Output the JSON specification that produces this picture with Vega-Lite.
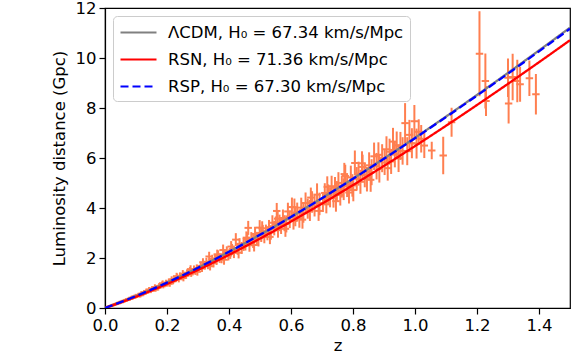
{
"$schema": "https://vega.github.io/schema/vega-lite/v6.json",
"autosize": {"type": "none"},
"padding": {"left": 105, "top": 8, "right": 12, "bottom": 55},
"width": 465,
"height": 300,
"background": "white",
"config": {
  "view": {"stroke": "black", "strokeWidth": 1.2},
  "axis": {"domainColor": "black", "domainWidth": 1.2, "tickColor": "black", "tickWidth": 1.2, "tickSize": 6, "labelColor": "black", "labelFont": "DejaVu Sans", "labelFontSize": 16.5, "titleFont": "DejaVu Sans", "titleFontSize": 16.5, "titleFontWeight": "normal", "titleColor": "black", "grid": false, "labelPadding": 3, "labelFlush": false, "labelOverlap": false},
  "legend": {"orient": "top-left", "offset": 8, "fillColor": "white", "strokeColor": "#cccccc", "cornerRadius": 4, "padding": 6, "symbolType": "M-1,0H3", "symbolSize": 324, "symbolStrokeWidth": 2.2, "labelFont": "DejaVu Sans", "labelFontSize": 16.5, "labelColor": "black", "rowPadding": 8, "labelOffset": 28, "labelLimit": 400}
},
"datasets": {
  "pts": [
    {"z":0.012,"d":0.053,"e":0.015,"ez":0.008},{"z":0.015,"d":0.069,"e":0.018,"ez":0.008},{"z":0.018,"d":0.079,"e":0.02,"ez":0.008},{"z":0.021,"d":0.097,"e":0.023,"ez":0.008},{"z":0.024,"d":0.105,"e":0.026,"ez":0.008},{"z":0.027,"d":0.124,"e":0.028,"ez":0.008},{"z":0.030,"d":0.131,"e":0.031,"ez":0.008},{"z":0.033,"d":0.152,"e":0.034,"ez":0.009},{"z":0.036,"d":0.160,"e":0.036,"ez":0.009},{"z":0.040,"d":0.186,"e":0.039,"ez":0.009},{"z":0.043,"d":0.190,"e":0.042,"ez":0.009},{"z":0.046,"d":0.214,"e":0.044,"ez":0.009},{"z":0.050,"d":0.222,"e":0.047,"ez":0.01},{"z":0.053,"d":0.247,"e":0.05,"ez":0.01},{"z":0.056,"d":0.252,"e":0.052,"ez":0.01},{"z":0.060,"d":0.283,"e":0.055,"ez":0.01},{"z":0.064,"d":0.289,"e":0.057,"ez":0.01},{"z":0.068,"d":0.322,"e":0.06,"ez":0.01},{"z":0.072,"d":0.326,"e":0.062,"ez":0.011},{"z":0.076,"d":0.361,"e":0.065,"ez":0.011},{"z":0.080,"d":0.366,"e":0.068,"ez":0.011},{"z":0.085,"d":0.408,"e":0.07,"ez":0.011},{"z":0.090,"d":0.414,"e":0.073,"ez":0.011},{"z":0.095,"d":0.460,"e":0.075,"ez":0.012},{"z":0.100,"d":0.466,"e":0.078,"ez":0.012},
    {"z":0.103,"d":0.474,"e":0.075,"ez":0.012},{"z":0.108,"d":0.526,"e":0.075,"ez":0.012},{"z":0.112,"d":0.510,"e":0.085,"ez":0.012},{"z":0.117,"d":0.570,"e":0.075,"ez":0.012},{"z":0.121,"d":0.573,"e":0.09,"ez":0.012},{"z":0.126,"d":0.637,"e":0.085,"ez":0.012},{"z":0.131,"d":0.613,"e":0.09,"ez":0.012},{"z":0.135,"d":0.660,"e":0.09,"ez":0.012},{"z":0.139,"d":0.674,"e":0.085,"ez":0.012},{"z":0.144,"d":0.729,"e":0.1,"ez":0.012},{"z":0.148,"d":0.685,"e":0.09,"ez":0.012},{"z":0.152,"d":0.766,"e":0.1,"ez":0.012},{"z":0.157,"d":0.754,"e":0.09,"ez":0.012},{"z":0.161,"d":0.839,"e":0.11,"ez":0.012},{"z":0.166,"d":0.809,"e":0.1,"ez":0.012},{"z":0.170,"d":0.812,"e":0.11,"ez":0.012},{"z":0.175,"d":0.882,"e":0.11,"ez":0.012},{"z":0.179,"d":0.886,"e":0.1,"ez":0.012},{"z":0.184,"d":0.950,"e":0.11,"ez":0.012},{"z":0.188,"d":0.895,"e":0.11,"ez":0.012},{"z":0.193,"d":0.940,"e":0.11,"ez":0.012},{"z":0.197,"d":1.011,"e":0.12,"ez":0.012},{"z":0.202,"d":0.967,"e":0.11,"ez":0.012},{"z":0.206,"d":1.053,"e":0.12,"ez":0.012},{"z":0.211,"d":1.050,"e":0.13,"ez":0.012},{"z":0.215,"d":1.139,"e":0.13,"ez":0.012},{"z":0.220,"d":1.078,"e":0.12,"ez":0.012},{"z":0.224,"d":1.147,"e":0.13,"ez":0.012},{"z":0.229,"d":1.165,"e":0.13,"ez":0.012},{"z":0.233,"d":1.236,"e":0.14,"ez":0.012},{"z":0.238,"d":1.155,"e":0.13,"ez":0.012},{"z":0.242,"d":1.279,"e":0.14,"ez":0.012},{"z":0.247,"d":1.243,"e":0.13,"ez":0.012},{"z":0.251,"d":1.372,"e":0.145,"ez":0.012},{"z":0.256,"d":1.309,"e":0.14,"ez":0.012},{"z":0.260,"d":1.303,"e":0.145,"ez":0.012},{"z":0.265,"d":1.402,"e":0.145,"ez":0.012},{"z":0.269,"d":1.397,"e":0.14,"ez":0.012},{"z":0.274,"d":1.484,"e":0.155,"ez":0.012},{"z":0.278,"d":1.390,"e":0.145,"ez":0.012},{"z":0.283,"d":1.448,"e":0.145,"ez":0.012},{"z":0.287,"d":1.547,"e":0.155,"ez":0.012},{"z":0.292,"d":1.468,"e":0.145,"ez":0.012},{"z":0.296,"d":1.585,"e":0.16,"ez":0.012},
    {"z":0.304,"d":1.570,"e":0.15,"ez":0.012},{"z":0.309,"d":1.684,"e":0.16,"ez":0.012},{"z":0.313,"d":1.590,"e":0.15,"ez":0.012},{"z":0.318,"d":1.724,"e":0.17,"ez":0.012},{"z":0.322,"d":1.698,"e":0.16,"ez":0.012},{"z":0.327,"d":1.835,"e":0.17,"ez":0.012},{"z":0.332,"d":1.722,"e":0.17,"ez":0.012},{"z":0.336,"d":2.060,"e":0.19,"ez":0.012},{"z":0.341,"d":1.834,"e":0.17,"ez":0.012},{"z":0.346,"d":1.941,"e":0.19,"ez":0.012},{"z":0.350,"d":1.794,"e":0.17,"ez":0.012},{"z":0.355,"d":1.980,"e":0.19,"ez":0.012},{"z":0.360,"d":1.912,"e":0.19,"ez":0.012},{"z":0.365,"d":2.105,"e":0.2,"ez":0.012},{"z":0.370,"d":1.994,"e":0.19,"ez":0.012},{"z":0.376,"d":1.989,"e":0.2,"ez":0.012},{"z":0.381,"d":2.318,"e":0.22,"ez":0.012},{"z":0.387,"d":2.122,"e":0.2,"ez":0.012},{"z":0.393,"d":2.247,"e":0.22,"ez":0.012},{"z":0.398,"d":2.101,"e":0.2,"ez":0.012},{"z":0.404,"d":2.184,"e":0.22,"ez":0.012},{"z":0.410,"d":2.339,"e":0.22,"ez":0.012},{"z":0.416,"d":2.216,"e":0.22,"ez":0.012},{"z":0.422,"d":2.734,"e":0.26,"ez":0.012},{"z":0.428,"d":2.366,"e":0.24,"ez":0.012},{"z":0.434,"d":2.554,"e":0.24,"ez":0.012},{"z":0.441,"d":2.402,"e":0.24,"ez":0.012},{"z":0.447,"d":2.543,"e":0.26,"ez":0.012},{"z":0.453,"d":2.558,"e":0.26,"ez":0.012},{"z":0.459,"d":2.756,"e":0.27,"ez":0.012},{"z":0.462,"d":3.205,"e":0.28,"ez":0.012},{"z":0.466,"d":2.509,"e":0.26,"ez":0.012},{"z":0.472,"d":2.766,"e":0.27,"ez":0.012},{"z":0.478,"d":2.669,"e":0.27,"ez":0.012},{"z":0.484,"d":2.962,"e":0.29,"ez":0.012},{"z":0.490,"d":2.776,"e":0.27,"ez":0.012},{"z":0.495,"d":2.751,"e":0.29,"ez":0.012},{"z":0.499,"d":3.215,"e":0.3,"ez":0.012},
    {"z":0.504,"d":2.900,"e":0.26,"ez":0.012},{"z":0.509,"d":3.055,"e":0.27,"ez":0.012},{"z":0.514,"d":2.849,"e":0.26,"ez":0.012},{"z":0.519,"d":3.066,"e":0.27,"ez":0.012},{"z":0.524,"d":2.978,"e":0.27,"ez":0.012},{"z":0.529,"d":3.232,"e":0.29,"ez":0.012},{"z":0.535,"d":3.022,"e":0.29,"ez":0.012},{"z":0.540,"d":3.410,"e":0.3,"ez":0.012},{"z":0.546,"d":3.195,"e":0.29,"ez":0.012},{"z":0.551,"d":3.362,"e":0.3,"ez":0.012},{"z":0.554,"d":3.882,"e":0.32,"ez":0.012},{"z":0.558,"d":3.113,"e":0.3,"ez":0.012},{"z":0.563,"d":3.416,"e":0.32,"ez":0.012},{"z":0.568,"d":3.281,"e":0.32,"ez":0.012},{"z":0.574,"d":3.599,"e":0.34,"ez":0.012},{"z":0.579,"d":3.392,"e":0.32,"ez":0.012},{"z":0.585,"d":3.363,"e":0.34,"ez":0.012},{"z":0.590,"d":3.862,"e":0.35,"ez":0.012},{"z":0.596,"d":3.547,"e":0.35,"ez":0.012},{"z":0.603,"d":4.038,"e":0.38,"ez":0.012},{"z":0.608,"d":3.486,"e":0.35,"ez":0.012},{"z":0.614,"d":3.640,"e":0.37,"ez":0.012},{"z":0.620,"d":3.836,"e":0.38,"ez":0.012},{"z":0.627,"d":3.581,"e":0.37,"ez":0.012},{"z":0.633,"d":4.013,"e":0.4,"ez":0.012},{"z":0.640,"d":3.790,"e":0.38,"ez":0.012},{"z":0.647,"d":4.201,"e":0.42,"ez":0.012},{"z":0.654,"d":3.972,"e":0.4,"ez":0.012},{"z":0.661,"d":3.901,"e":0.42,"ez":0.012},{"z":0.668,"d":4.241,"e":0.43,"ez":0.012},{"z":0.676,"d":4.091,"e":0.43,"ez":0.012},{"z":0.684,"d":4.535,"e":0.45,"ez":0.012},{"z":0.692,"d":4.164,"e":0.45,"ez":0.012},
    {"z":0.703,"d":4.200,"e":0.36,"ez":0.012},{"z":0.709,"d":4.602,"e":0.39,"ez":0.012},{"z":0.714,"d":4.146,"e":0.36,"ez":0.012},{"z":0.720,"d":4.554,"e":0.39,"ez":0.012},{"z":0.726,"d":4.417,"e":0.39,"ez":0.012},{"z":0.731,"d":4.871,"e":0.42,"ez":0.012},{"z":0.737,"d":4.405,"e":0.39,"ez":0.012},{"z":0.742,"d":4.820,"e":0.42,"ez":0.012},{"z":0.748,"d":4.677,"e":0.4,"ez":0.012},{"z":0.753,"d":5.003,"e":0.43,"ez":0.012},{"z":0.759,"d":4.518,"e":0.42,"ez":0.012},{"z":0.764,"d":4.848,"e":0.43,"ez":0.012},{"z":0.770,"d":4.746,"e":0.43,"ez":0.012},{"z":0.775,"d":5.282,"e":0.45,"ez":0.012},{"z":0.781,"d":4.878,"e":0.44,"ez":0.012},{"z":0.787,"d":4.619,"e":0.44,"ez":0.012},{"z":0.793,"d":5.224,"e":0.47,"ez":0.012},{"z":0.798,"d":4.903,"e":0.45,"ez":0.012},{"z":0.806,"d":5.800,"e":0.5,"ez":0.012},{"z":0.812,"d":5.168,"e":0.47,"ez":0.012},{"z":0.818,"d":5.375,"e":0.48,"ez":0.012},{"z":0.824,"d":5.048,"e":0.48,"ez":0.012},{"z":0.831,"d":5.643,"e":0.49,"ez":0.012},{"z":0.838,"d":5.318,"e":0.49,"ez":0.012},{"z":0.845,"d":5.151,"e":0.49,"ez":0.012},{"z":0.852,"d":5.707,"e":0.52,"ez":0.012},{"z":0.860,"d":5.433,"e":0.52,"ez":0.012},{"z":0.868,"d":6.067,"e":0.55,"ez":0.012},{"z":0.876,"d":5.672,"e":0.53,"ez":0.012},{"z":0.885,"d":5.567,"e":0.55,"ez":0.012},{"z":0.894,"d":5.992,"e":0.56,"ez":0.012},
    {"z":0.115,"d":0.514,"e":0.085,"ez":0.012},{"z":0.142,"d":0.739,"e":0.095,"ez":0.012},{"z":0.163,"d":0.744,"e":0.095,"ez":0.012},{"z":0.186,"d":0.989,"e":0.115,"ez":0.012},{"z":0.209,"d":0.974,"e":0.125,"ez":0.012},{"z":0.231,"d":1.273,"e":0.135,"ez":0.012},{"z":0.253,"d":1.211,"e":0.145,"ez":0.012},{"z":0.276,"d":1.555,"e":0.155,"ez":0.012},{"z":0.298,"d":1.453,"e":0.16,"ez":0.012},{"z":0.316,"d":1.831,"e":0.16,"ez":0.012},{"z":0.339,"d":1.672,"e":0.17,"ez":0.012},{"z":0.362,"d":2.145,"e":0.19,"ez":0.012},{"z":0.384,"d":1.931,"e":0.2,"ez":0.012},{"z":0.407,"d":2.457,"e":0.22,"ez":0.012},{"z":0.431,"d":2.213,"e":0.23,"ez":0.012},{"z":0.456,"d":2.814,"e":0.25,"ez":0.012},{"z":0.481,"d":2.521,"e":0.26,"ez":0.012},{"z":0.507,"d":3.189,"e":0.28,"ez":0.012},{"z":0.532,"d":2.844,"e":0.29,"ez":0.012},{"z":0.557,"d":3.573,"e":0.3,"ez":0.012},{"z":0.582,"d":3.167,"e":0.32,"ez":0.012},{"z":0.611,"d":4.028,"e":0.35,"ez":0.012},{"z":0.637,"d":3.533,"e":0.36,"ez":0.012},{"z":0.664,"d":4.417,"e":0.4,"ez":0.012},{"z":0.689,"d":3.884,"e":0.4,"ez":0.012},{"z":0.717,"d":4.847,"e":0.42,"ez":0.012},{"z":0.745,"d":4.273,"e":0.42,"ez":0.012},{"z":0.772,"d":5.356,"e":0.45,"ez":0.012},{"z":0.801,"d":4.718,"e":0.45,"ez":0.012},{"z":0.829,"d":5.789,"e":0.48,"ez":0.012},{"z":0.857,"d":5.128,"e":0.48,"ez":0.012},{"z":0.882,"d":6.128,"e":0.5,"ez":0.012},
    {"z":0.902,"d":5.818,"e":0.5,"ez":0.012},{"z":0.908,"d":6.349,"e":0.52,"ez":0.012},{"z":0.912,"d":5.594,"e":0.5,"ez":0.012},{"z":0.918,"d":6.253,"e":0.52,"ez":0.012},{"z":0.923,"d":5.862,"e":0.5,"ez":0.012},{"z":0.929,"d":6.656,"e":0.55,"ez":0.012},{"z":0.935,"d":6.146,"e":0.52,"ez":0.012},{"z":0.941,"d":6.510,"e":0.55,"ez":0.012},{"z":0.947,"d":5.988,"e":0.55,"ez":0.012},{"z":0.953,"d":6.483,"e":0.56,"ez":0.012},{"z":0.960,"d":6.283,"e":0.55,"ez":0.012},{"z":0.968,"d":7.395,"e":0.8,"ez":0.012},{"z":0.975,"d":6.272,"e":0.56,"ez":0.012},{"z":0.982,"d":6.926,"e":0.6,"ez":0.012},{"z":0.990,"d":6.591,"e":0.6,"ez":0.012},{"z":0.998,"d":7.471,"e":0.65,"ez":0.012},{"z":1.005,"d":6.577,"e":0.6,"ez":0.012},{"z":1.012,"d":7.048,"e":0.5,"ez":0.012},{"z":1.020,"d":6.769,"e":0.55,"ez":0.012},{"z":1.030,"d":6.498,"e":0.5,"ez":0.012},{"z":1.054,"d":6.30,"e":0.35,"ez":0.012},{"z":1.091,"d":6.10,"e":0.75,"ez":0.012},{"z":1.118,"d":7.43,"e":0.58,"ez":0.012},
    {"z":1.208,"d":10.17,"e":1.7,"ez":0.012},{"z":1.227,"d":9.08,"e":1.1,"ez":0.012},{"z":1.229,"d":8.28,"e":0.6,"ez":0.012},{"z":1.300,"d":9.21,"e":0.77,"ez":0.012},{"z":1.302,"d":8.18,"e":0.8,"ez":0.012},{"z":1.315,"d":9.24,"e":0.93,"ez":0.012},{"z":1.330,"d":9.08,"e":0.85,"ez":0.012},{"z":1.339,"d":8.95,"e":0.7,"ez":0.012},{"z":1.369,"d":9.19,"e":0.71,"ez":0.012},{"z":1.390,"d":8.55,"e":0.81,"ez":0.012}
  ],
  "curves": [
    {"z":0,"d":0,"m":"ΛCDM, H₀ = 67.34 km/s/Mpc"},{"z":0.1,"d":0.478,"m":"ΛCDM, H₀ = 67.34 km/s/Mpc"},{"z":0.2,"d":1.0165,"m":"ΛCDM, H₀ = 67.34 km/s/Mpc"},{"z":0.3,"d":1.6088,"m":"ΛCDM, H₀ = 67.34 km/s/Mpc"},{"z":0.4,"d":2.2484,"m":"ΛCDM, H₀ = 67.34 km/s/Mpc"},{"z":0.5,"d":2.9297,"m":"ΛCDM, H₀ = 67.34 km/s/Mpc"},{"z":0.6,"d":3.6476,"m":"ΛCDM, H₀ = 67.34 km/s/Mpc"},{"z":0.7,"d":4.398,"m":"ΛCDM, H₀ = 67.34 km/s/Mpc"},{"z":0.8,"d":5.1769,"m":"ΛCDM, H₀ = 67.34 km/s/Mpc"},{"z":0.9,"d":5.9814,"m":"ΛCDM, H₀ = 67.34 km/s/Mpc"},{"z":1.0,"d":6.8086,"m":"ΛCDM, H₀ = 67.34 km/s/Mpc"},{"z":1.1,"d":7.6562,"m":"ΛCDM, H₀ = 67.34 km/s/Mpc"},{"z":1.2,"d":8.5223,"m":"ΛCDM, H₀ = 67.34 km/s/Mpc"},{"z":1.3,"d":9.4051,"m":"ΛCDM, H₀ = 67.34 km/s/Mpc"},{"z":1.4,"d":10.3032,"m":"ΛCDM, H₀ = 67.34 km/s/Mpc"},{"z":1.5,"d":11.2152,"m":"ΛCDM, H₀ = 67.34 km/s/Mpc"},
    {"z":0,"d":0,"m":"RSN, H₀ = 71.36 km/s/Mpc"},{"z":0.1,"d":0.4516,"m":"RSN, H₀ = 71.36 km/s/Mpc"},{"z":0.2,"d":0.9611,"m":"RSN, H₀ = 71.36 km/s/Mpc"},{"z":0.3,"d":1.5222,"m":"RSN, H₀ = 71.36 km/s/Mpc"},{"z":0.4,"d":2.129,"m":"RSN, H₀ = 71.36 km/s/Mpc"},{"z":0.5,"d":2.7765,"m":"RSN, H₀ = 71.36 km/s/Mpc"},{"z":0.6,"d":3.4594,"m":"RSN, H₀ = 71.36 km/s/Mpc"},{"z":0.7,"d":4.1741,"m":"RSN, H₀ = 71.36 km/s/Mpc"},{"z":0.8,"d":4.917,"m":"RSN, H₀ = 71.36 km/s/Mpc"},{"z":0.9,"d":5.6859,"m":"RSN, H₀ = 71.36 km/s/Mpc"},{"z":1.0,"d":6.477,"m":"RSN, H₀ = 71.36 km/s/Mpc"},{"z":1.1,"d":7.2887,"m":"RSN, H₀ = 71.36 km/s/Mpc"},{"z":1.2,"d":8.12,"m":"RSN, H₀ = 71.36 km/s/Mpc"},{"z":1.3,"d":8.9678,"m":"RSN, H₀ = 71.36 km/s/Mpc"},{"z":1.4,"d":9.8313,"m":"RSN, H₀ = 71.36 km/s/Mpc"},{"z":1.5,"d":10.7105,"m":"RSN, H₀ = 71.36 km/s/Mpc"},
    {"z":0,"d":0,"m":"RSP, H₀ = 67.30 km/s/Mpc"},{"z":0.1,"d":0.4781,"m":"RSP, H₀ = 67.30 km/s/Mpc"},{"z":0.2,"d":1.0165,"m":"RSP, H₀ = 67.30 km/s/Mpc"},{"z":0.3,"d":1.6083,"m":"RSP, H₀ = 67.30 km/s/Mpc"},{"z":0.4,"d":2.2471,"m":"RSP, H₀ = 67.30 km/s/Mpc"},{"z":0.5,"d":2.9271,"m":"RSP, H₀ = 67.30 km/s/Mpc"},{"z":0.6,"d":3.6432,"m":"RSP, H₀ = 67.30 km/s/Mpc"},{"z":0.7,"d":4.3914,"m":"RSP, H₀ = 67.30 km/s/Mpc"},{"z":0.8,"d":5.1676,"m":"RSP, H₀ = 67.30 km/s/Mpc"},{"z":0.9,"d":5.9688,"m":"RSP, H₀ = 67.30 km/s/Mpc"},{"z":1.0,"d":6.7923,"m":"RSP, H₀ = 67.30 km/s/Mpc"},{"z":1.1,"d":7.6355,"m":"RSP, H₀ = 67.30 km/s/Mpc"},{"z":1.2,"d":8.4967,"m":"RSP, H₀ = 67.30 km/s/Mpc"},{"z":1.3,"d":9.3741,"m":"RSP, H₀ = 67.30 km/s/Mpc"},{"z":1.4,"d":10.2661,"m":"RSP, H₀ = 67.30 km/s/Mpc"},{"z":1.5,"d":11.1715,"m":"RSP, H₀ = 67.30 km/s/Mpc"}
  ]
},
"layer": [
  {
    "data": {"name": "pts"},
    "mark": {"type": "errorbar", "color": "#ff7f50", "thickness": 2, "clip": true},
    "encoding": {
      "x": {"field": "z", "type": "quantitative", "scale": {"domain": [0, 1.5], "nice": false, "zero": false},
            "axis": {"title": "z", "values": [0, 0.2, 0.4, 0.6, 0.8, 1.0, 1.2, 1.4], "format": ".1f", "titlePadding": 4}},
      "y": {"field": "d", "type": "quantitative", "scale": {"domain": [0, 12], "nice": false},
            "axis": {"title": "Luminosity distance (Gpc)", "values": [0, 2, 4, 6, 8, 10, 12], "format": "d", "titlePadding": 8}},
      "yError": {"field": "e"}
    }
  },
  {
    "data": {"name": "pts"},
    "mark": {"type": "errorbar", "color": "#ff7f50", "thickness": 2, "clip": true},
    "encoding": {
      "x": {"field": "z", "type": "quantitative"},
      "y": {"field": "d", "type": "quantitative"},
      "xError": {"field": "ez"}
    }
  },
  {
    "data": {"name": "curves"},
    "mark": {"type": "line", "strokeWidth": 2.3, "interpolate": "monotone", "clip": true},
    "encoding": {
      "x": {"field": "z", "type": "quantitative"},
      "y": {"field": "d", "type": "quantitative"},
      "color": {"field": "m", "type": "nominal", "title": null,
                "scale": {"domain": ["ΛCDM, H₀ = 67.34 km/s/Mpc", "RSN, H₀ = 71.36 km/s/Mpc", "RSP, H₀ = 67.30 km/s/Mpc"], "range": ["#808080", "#ff0000", "#0000ff"]}},
      "strokeDash": {"field": "m", "type": "nominal", "title": null,
                "scale": {"domain": ["ΛCDM, H₀ = 67.34 km/s/Mpc", "RSN, H₀ = 71.36 km/s/Mpc", "RSP, H₀ = 67.30 km/s/Mpc"], "range": [[1, 0], [1, 0], [8, 4]]}},
      "order": {"field": "z", "type": "quantitative"}
    }
  }
]
}
